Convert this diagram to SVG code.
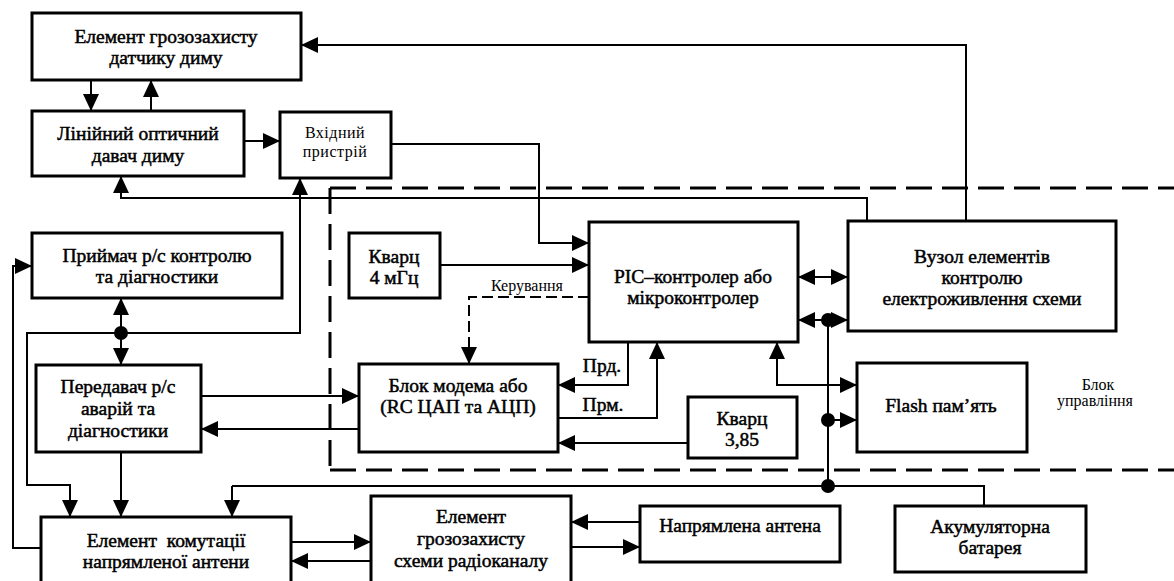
<svg xmlns="http://www.w3.org/2000/svg" width="1174" height="581" viewBox="0 0 1174 581">
<style>
.box{fill:#fff;stroke:#000;stroke-width:3}
.t{font-family:"Liberation Serif","Times New Roman",serif;font-size:19.5px;font-weight:normal;text-anchor:middle;fill:#000;stroke:#000;stroke-width:0.5px}
.s{font-family:"Liberation Serif","Times New Roman",serif;font-size:16px;font-weight:normal;text-anchor:middle;fill:#000}
.c{fill:none;stroke:#000;stroke-width:2}
.a{marker-end:url(#arr)}
.b{marker-start:url(#arr);marker-end:url(#arr)}
.dash{fill:none;stroke:#000;stroke-width:3;stroke-dasharray:26 10}
.dot{fill:#000}
</style>
<defs>
<marker id="arr" markerUnits="userSpaceOnUse" markerWidth="17" markerHeight="16" refX="17" refY="8" orient="auto-start-reverse">
<path d="M0,0 L17,8 L0,16 z" fill="#000"/>
</marker>
</defs>
<rect width="1174" height="581" fill="#fff"/>
<g id="control-block-frame">
<path class="dash" d="M330,188 H1174"/>
<path class="dash" d="M330,188 V470"/>
<path class="dash" d="M330,470 H1174"/>
</g>
<g id="connectors">
<path class="c a" d="M966,221 V45 H301"/>
<path class="c a" d="M91,80 V111"/>
<path class="c a" d="M151,111 V80"/>
<path class="c a" d="M244,141 H280"/>
<path class="c a" d="M391,144 H539 V243 H589"/>
<path class="c a" d="M867,221 V198 H121 V176"/>
<path class="c b" d="M70,517 V485 H27 V333 H300 V178"/>
<path class="c a" d="M121,333 V298"/>
<path class="c a" d="M121,333 V365"/>
<path class="c a" d="M440,265 H589"/>
<path class="c a" d="M589,297 H469 V364" style="stroke-dasharray:11 5"/>
<path class="c a" d="M201,396 H359"/>
<path class="c a" d="M359,429 H201"/>
<path class="c a" d="M628,342 V385 H558"/>
<path class="c a" d="M558,418 H657 V342"/>
<path class="c a" d="M688,443 H558"/>
<path class="c b" d="M777,342 V385 H857"/>
<path class="c b" d="M798,277 H848"/>
<path class="c a" d="M828,320 H798"/>
<path class="c a" d="M828,320 H848"/>
<path class="c" d="M828,320 V486"/>
<path class="c a" d="M828,420 H857"/>
<path class="c" d="M984,506 V486 H232"/>
<path class="c a" d="M232,486 V517"/>
<path class="c a" d="M121,452 V517"/>
<path class="c a" d="M41,548 H13 V266 H32"/>
<path class="c a" d="M291,542 H371"/>
<path class="c a" d="M371,561 H291"/>
<path class="c a" d="M640,522 H571"/>
<path class="c a" d="M571,547 H640"/>
<circle class="dot" cx="121" cy="333" r="7"/>
<circle class="dot" cx="828" cy="320" r="7"/>
<circle class="dot" cx="828" cy="420" r="7"/>
<circle class="dot" cx="828" cy="486" r="7"/>
<text class="s" x="527" y="291">Керування</text>
<text class="t" x="602" y="372">Прд.</text>
<text class="t" x="603" y="411">Прм.</text>
</g>
<g id="smoke-protection">
<rect class="box" x="32" y="13" width="269" height="67"/>
<text class="t" x="166" y="43">Елемент грозозахисту</text>
<text class="t" x="166" y="64">датчику диму</text>
</g>
<g id="smoke-sensor">
<rect class="box" x="32" y="111" width="212" height="65"/>
<text class="t" x="138" y="140">Лінійний оптичний</text>
<text class="t" x="138" y="162">давач диму</text>
</g>
<g id="input-device">
<rect class="box" x="280" y="112" width="111" height="66"/>
<text class="s" x="335" y="138" style="letter-spacing:0.5px">Вхідний</text>
<text class="s" x="335" y="157" style="letter-spacing:0.5px">пристрій</text>
</g>
<g id="receiver">
<rect class="box" x="32" y="233" width="250" height="65"/>
<text class="t" x="157" y="262">Приймач р/с контролю</text>
<text class="t" x="157" y="283">та діагностики</text>
</g>
<g id="transmitter">
<rect class="box" x="36" y="365" width="165" height="87"/>
<text class="t" x="118" y="393">Передавач р/с</text>
<text class="t" x="118" y="415">аварій та</text>
<text class="t" x="118" y="437">діагностики</text>
</g>
<g id="quartz-4">
<rect class="box" x="349" y="233" width="91" height="65"/>
<text class="t" x="394" y="263">Кварц</text>
<text class="t" x="394" y="284">4 мГц</text>
</g>
<g id="pic">
<rect class="box" x="589" y="222" width="209" height="120"/>
<text class="t" x="693" y="283">PIC–контролер або</text>
<text class="t" x="693" y="304">мікроконтролер</text>
</g>
<g id="power-control">
<rect class="box" x="848" y="221" width="268" height="110"/>
<text class="t" x="982" y="263">Вузол елементів</text>
<text class="t" x="982" y="284">контролю</text>
<text class="t" x="982" y="305">електроживлення схеми</text>
</g>
<g id="modem">
<rect class="box" x="359" y="364" width="199" height="88"/>
<text class="t" x="458" y="392">Блок модема або</text>
<text class="t" x="458" y="413">(RC ЦАП та АЦП)</text>
</g>
<g id="quartz-385">
<rect class="box" x="688" y="397" width="109" height="61"/>
<text class="t" x="742" y="425">Кварц</text>
<text class="t" x="742" y="446">3,85</text>
</g>
<g id="flash">
<rect class="box" x="857" y="363" width="170" height="89"/>
<text class="t" x="941" y="412">Flash пам’ять</text>
</g>
<g id="control-block-label">
<text class="s" x="1098" y="390">Блок</text>
<text class="s" x="1095" y="406">управління</text>
</g>
<g id="antenna-switch">
<rect class="box" x="41" y="517" width="250" height="75"/>
<text class="t" x="166" y="547" xml:space="preserve">Елемент  комутації</text>
<text class="t" x="166" y="568">напрямленої антени</text>
</g>
<g id="radio-protection">
<rect class="box" x="371" y="496" width="200" height="96"/>
<text class="t" x="471" y="523">Елемент</text>
<text class="t" x="471" y="545">грозозахисту</text>
<text class="t" x="471" y="567">схеми радіоканалу</text>
</g>
<g id="antenna">
<rect class="box" x="640" y="506" width="200" height="56"/>
<text class="t" x="740" y="532">Напрямлена антена</text>
</g>
<g id="battery">
<rect class="box" x="895" y="506" width="191" height="66"/>
<text class="t" x="990" y="533">Акумуляторна</text>
<text class="t" x="990" y="554">батарея</text>
</g>
</svg>
